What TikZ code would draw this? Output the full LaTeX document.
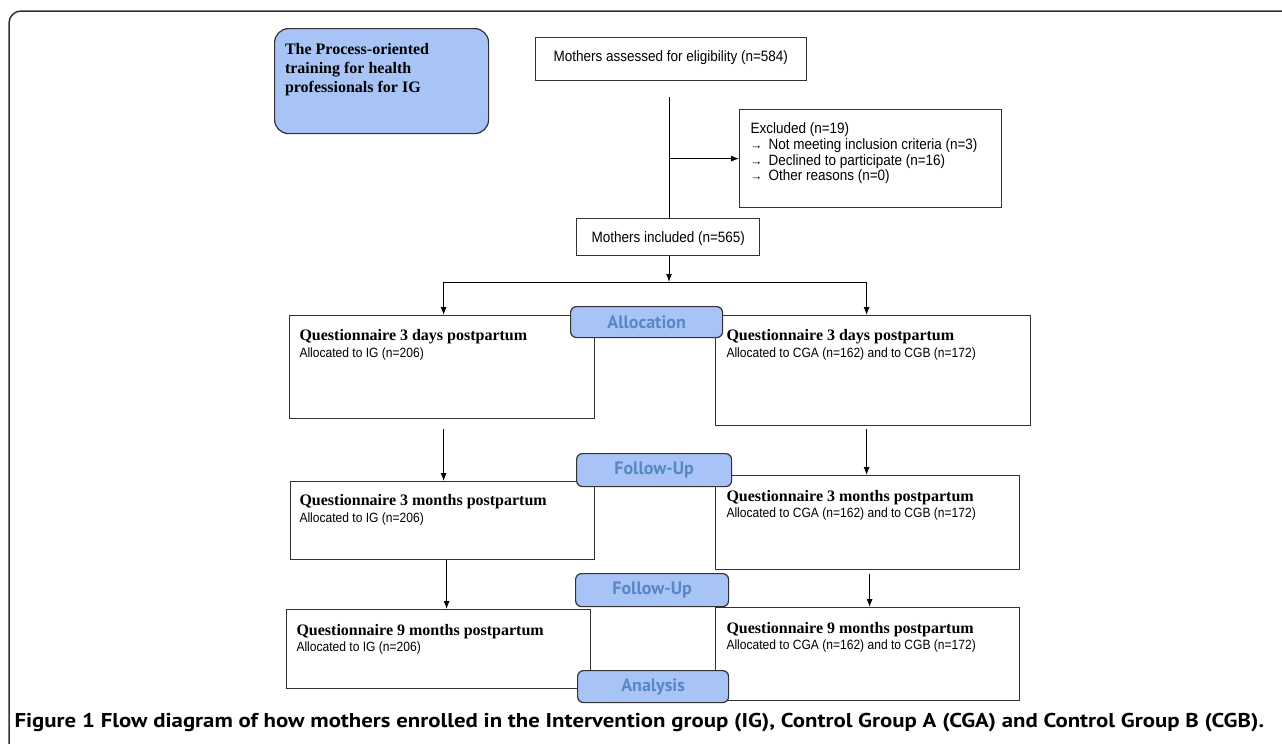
\documentclass[tikz,border=0pt]{standalone}
\usepackage{fontspec}
\setmainfont{Liberation Serif}
\newfontfamily\arialn{Liberation Sans}[FakeStretch=0.9]
\newfontfamily\myriad{PT Sans}
\newfontfamily\captionfont{PT Sans}[FakeStretch=1.14]
\usetikzlibrary{arrows.meta}

\definecolor{boxblue}{RGB}{168,196,246}
\definecolor{labelblue}{RGB}{88,136,196}
\definecolor{edgegray}{RGB}{50,50,50}

\tikzset{
	qbox/.style={draw=edgegray, line width=1.2pt, inner sep=0pt, anchor=north west},
	stagebox/.style={draw=edgegray, fill=boxblue, rounded corners=6pt, line width=1.2pt,
		inner sep=0pt, anchor=north west, text=labelblue, font=\myriad\fontsize{18}{20}\selectfont\bfseries},
	qtitle/.style={anchor=mid west, inner sep=0pt, font=\fontsize{16}{19}\selectfont\bfseries},
	qsub/.style={anchor=mid west, inner sep=0pt, font=\arialn\fontsize{13.4}{15}\selectfont},
	plain/.style={anchor=mid west, inner sep=0pt, font=\arialn\fontsize{15}{16}\selectfont},
}

\begin{document}
\begin{tikzpicture}[x=1pt, y=-1pt, >={Latex[length=8pt,width=6pt]}, line width=1pt]
	\useasboundingbox (0,0) rectangle (1282,744);
	\fill[white] (0,0) rectangle (1282,744);
	\draw[edgegray, line width=1.5pt, rounded corners=12pt] (9,770) -- (9,11) -- (1300,11);

	% top part
	\node[qbox, fill=boxblue, rounded corners=14pt, minimum width=214pt, minimum height=105pt] (train) at (274,28) {};
	\node[anchor=north west, inner sep=0pt, align=left, font=\fontsize{16}{19}\selectfont\bfseries]
		(traintext) at (284.5,42.5) {The Process-oriented\\training for health\\professionals for IG};

	\node[qbox, minimum width=271pt, minimum height=43pt] (assess) at (535,37) {};
	\node[plain] (assesstext) at ([shift={(18pt,-22pt)}]assess.north west) {Mothers assessed for eligibility (n=584)};

	\node[qbox, minimum width=262pt, minimum height=98pt] (excl) at (739,109) {};
	\node[anchor=north west, inner sep=0pt, align=left, font=\arialn\fontsize{15}{15.7}\selectfont]
		(excltext) at (750,122.5) {Excluded (n=19)\\
		\makebox[18pt][l]{\fontsize{13}{13}\selectfont→}Not meeting inclusion criteria (n=3)\\
		\makebox[18pt][l]{\fontsize{13}{13}\selectfont→}Declined to participate (n=16)\\
		\makebox[18pt][l]{\fontsize{13}{13}\selectfont→}Other reasons (n=0)};

	\node[qbox, minimum width=183pt, minimum height=37pt] (incl) at (576,218) {};
	\node[plain] (incltext) at ([shift={(15pt,-22pt)}]incl.north west) {Mothers included (n=565)};

	\coordinate (split) at (669,97);
	\coordinate (fork) at (669,282);
	\draw (split) -- (split |- incl.north);
	\draw[->] (split |- excl.west) -- (excl.west);
	\draw[->] (split |- incl.south) -- (fork);

	% questionnaires
	\node[qbox, minimum width=305pt, minimum height=103pt] (ig3d) at (289,315) {};
	\node[qtitle] at ([shift={(10pt,-23pt)}]ig3d.north west) {Questionnaire 3 days postpartum};
	\node[qsub] at ([shift={(10pt,-40pt)}]ig3d.north west) {Allocated to IG (n=206)};

	\node[qbox, minimum width=315pt, minimum height=110pt] (cg3d) at (715,315) {};
	\node[qtitle] at ([shift={(11pt,-23pt)}]cg3d.north west) {Questionnaire 3 days postpartum};
	\node[qsub] at ([shift={(11pt,-40pt)}]cg3d.north west) {Allocated to CGA (n=162) and to CGB (n=172)};

	\node[qbox, minimum width=304pt, minimum height=78pt] (ig3m) at (290,481) {};
	\node[qtitle] at ([shift={(9pt,-22pt)}]ig3m.north west) {Questionnaire 3 months postpartum};
	\node[qsub] at ([shift={(9pt,-39pt)}]ig3m.north west) {Allocated to IG (n=206)};

	\node[qbox, minimum width=304pt, minimum height=94pt] (cg3m) at (715,475) {};
	\node[qtitle] at ([shift={(11pt,-24pt)}]cg3m.north west) {Questionnaire 3 months postpartum};
	\node[qsub] at ([shift={(11pt,-40pt)}]cg3m.north west) {Allocated to CGA (n=162) and to CGB (n=172)};

	\node[qbox, minimum width=304pt, minimum height=79pt] (ig9m) at (286,609) {};
	\node[qtitle] at ([shift={(10pt,-24pt)}]ig9m.north west) {Questionnaire 9 months postpartum};
	\node[qsub] at ([shift={(10pt,-40pt)}]ig9m.north west) {Allocated to IG (n=206)};

	\node[qbox, minimum width=304pt, minimum height=93pt] (cg9m) at (715,607) {};
	\node[qtitle] at ([shift={(11pt,-24pt)}]cg9m.north west) {Questionnaire 9 months postpartum};
	\node[qsub] at ([shift={(11pt,-40pt)}]cg9m.north west) {Allocated to CGA (n=162) and to CGB (n=172)};

	% stage labels
	\node[stagebox, minimum width=152pt, minimum height=31pt] (alloc) at (570,306) {Allocation};
	\node[stagebox, minimum width=155pt, minimum height=33pt] (follow1) at (576,453) {Follow-Up};
	\node[stagebox, minimum width=153pt, minimum height=33pt] (follow2) at (575,573) {Follow-Up};
	\node[stagebox, minimum width=151pt, minimum height=32pt] (analysis) at (577,670) {Analysis};

	% connectors
	\draw[->] (fork) -| ([xshift=1.5pt]ig3d.north);
	\draw[->] (fork) -| ([xshift=-6.5pt]cg3d.north);
	\draw[->] ([shift={(1.5pt,-10pt)}]ig3d.south) -- ([xshift=1pt]ig3m.north);
	\draw[->] ([shift={(-6.5pt,-3pt)}]cg3d.south) -- ([xshift=-1pt]cg3m.north);
	\draw[->] ([xshift=4pt]ig3m.south) -- ([xshift=8pt]ig9m.north);
	\draw[->] ([shift={(2pt,-4pt)}]cg3m.south) -- ([xshift=2pt]cg9m.north);

	\node[anchor=mid west, inner sep=0pt, font=\captionfont\fontsize{20}{22}\selectfont\bfseries] (caption) at (14,725)
		{Figure 1 Flow diagram of how mothers enrolled in the Intervention group (IG), Control Group A (CGA) and Control Group B (CGB).};
\end{tikzpicture}
\end{document}
